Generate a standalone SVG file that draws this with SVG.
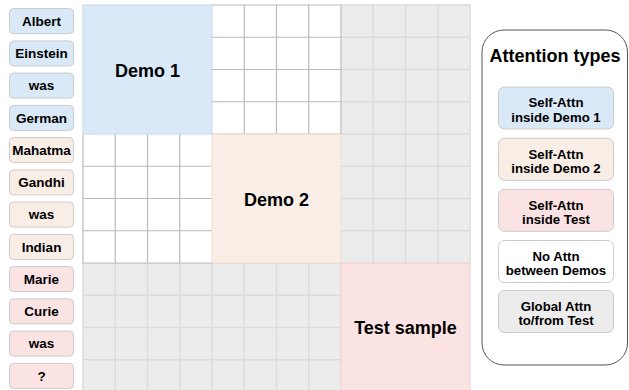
<svg xmlns="http://www.w3.org/2000/svg" width="629" height="390" viewBox="0 0 629 390">
<style>
text{font-family:"Liberation Sans",Arial,sans-serif;font-weight:bold;fill:#000;text-anchor:middle}
.tok{font-size:13.5px}
.blk{font-size:18px}
.lg{font-size:13.2px}
.b{fill:#d9e9f7}
.e{fill:#f9eee6}
.p{fill:#fce3e3}
.w{fill:#ffffff}
.g{fill:#ececec}
.tb{stroke:#cccccc;stroke-width:1}
.wl{stroke:#bbbbbb;stroke-width:1.2;fill:none}
.gl{stroke:#dcdcdc;stroke-width:1.5;fill:none}
</style>
<rect width="629" height="390" fill="#ffffff"/>
<g id="tokens">
<g id="tok-albert"><rect class="b tb" x="9.5" y="8.6" width="64" height="25" rx="4"/><text class="tok" x="41.5" y="25.9">Albert</text></g>
<g id="tok-einstein"><rect class="b tb" x="9.5" y="40.9" width="64" height="25" rx="4"/><text class="tok" x="41.5" y="58.2">Einstein</text></g>
<g id="tok-was1"><rect class="b tb" x="9.5" y="73.1" width="64" height="25" rx="4"/><text class="tok" x="41.5" y="90.4">was</text></g>
<g id="tok-german"><rect class="b tb" x="9.5" y="105.4" width="64" height="25" rx="4"/><text class="tok" x="41.5" y="122.7">German</text></g>
<g id="tok-mahatma"><rect class="e tb" x="9.5" y="137.6" width="64" height="25" rx="4"/><text class="tok" x="41.5" y="154.9">Mahatma</text></g>
<g id="tok-gandhi"><rect class="e tb" x="9.5" y="169.9" width="64" height="25" rx="4"/><text class="tok" x="41.5" y="187.2">Gandhi</text></g>
<g id="tok-was2"><rect class="e tb" x="9.5" y="202.1" width="64" height="25" rx="4"/><text class="tok" x="41.5" y="219.4">was</text></g>
<g id="tok-indian"><rect class="e tb" x="9.5" y="234.4" width="64" height="25" rx="4"/><text class="tok" x="41.5" y="251.7">Indian</text></g>
<g id="tok-marie"><rect class="p tb" x="9.5" y="266.6" width="64" height="25" rx="4"/><text class="tok" x="41.5" y="283.9">Marie</text></g>
<g id="tok-curie"><rect class="p tb" x="9.5" y="298.9" width="64" height="25" rx="4"/><text class="tok" x="41.5" y="316.2">Curie</text></g>
<g id="tok-was3"><rect class="p tb" x="9.5" y="331.1" width="64" height="25" rx="4"/><text class="tok" x="41.5" y="348.4">was</text></g>
<g id="tok-q"><rect class="p tb" x="9.5" y="363.4" width="64" height="25" rx="4"/><text class="tok" x="41.5" y="380.7">?</text></g>
</g>
<g id="matrix">
<g id="gray-right">
<rect class="g" x="341" y="5" width="129" height="258"/>
<path class="gl" d="M341 5H470V263M373.25 5V263M405.5 5V263M437.75 5V263M341 37.25H470M341 69.5H470M341 101.75H470M341 134H470M341 166.25H470M341 198.5H470M341 230.75H470"/>
</g>
<g id="gray-bottom">
<rect class="g" x="83" y="263" width="258" height="129"/>
<path class="gl" d="M83 263H341M83 263V392M115.25 263V392M147.5 263V392M179.75 263V392M212 263V392M244.25 263V392M276.5 263V392M308.75 263V392M83 295.25H341M83 327.5H341M83 359.75H341"/>
</g>
<g id="white-a">
<rect class="w" x="212" y="5" width="129" height="129"/>
<path class="wl" d="M212 5H341V134M244.25 5V134M276.5 5V134M308.75 5V134M212 37.25H341M212 69.5H341M212 101.75H341M212 134H341"/>
</g>
<g id="white-b">
<rect class="w" x="83" y="134" width="129" height="129"/>
<path class="wl" d="M83 134V263H212M115.25 134V263M147.5 134V263M179.75 134V263M83 166.25H212M83 198.5H212M83 230.75H212"/>
</g>
<g id="demo1"><rect class="b" x="83" y="5" width="129" height="129" stroke="#c6d8e8" stroke-width="1"/><text class="blk" x="147.5" y="77">Demo 1</text></g>
<g id="demo2"><rect class="e" x="212" y="134" width="129" height="129" stroke="#eddcd0" stroke-width="1"/><text class="blk" x="276.5" y="206">Demo 2</text></g>
<g id="test"><rect class="p" x="341" y="263" width="129" height="130" stroke="#efcccc" stroke-width="1"/><text class="blk" x="405.5" y="333.5">Test sample</text></g>
</g>
<g id="connectors"></g>
<g id="legend">
<rect x="482" y="30" width="145.5" height="335" rx="22" fill="#ffffff" stroke="#555555" stroke-width="1"/>
<text class="blk" x="555" y="62">Attention types</text>
<g id="lg-demo1"><rect class="b tb" x="498.5" y="87" width="115" height="42" rx="6"/><text class="lg" x="556" y="107.3">Self-Attn</text><text class="lg" x="556" y="121.7">inside Demo 1</text></g>
<g id="lg-demo2"><rect class="e tb" x="498.5" y="138.3" width="115" height="42" rx="6"/><text class="lg" x="556" y="158.6">Self-Attn</text><text class="lg" x="556" y="173">inside Demo 2</text></g>
<g id="lg-test"><rect class="p tb" x="498.5" y="189.3" width="115" height="42" rx="6"/><text class="lg" x="556" y="209.6">Self-Attn</text><text class="lg" x="556" y="224">inside Test</text></g>
<g id="lg-none"><rect class="w tb" x="498.5" y="240.5" width="115" height="42" rx="6"/><text class="lg" x="556" y="260.8">No Attn</text><text class="lg" x="556" y="275.2">between Demos</text></g>
<g id="lg-global"><rect class="g tb" x="498.5" y="290.5" width="115" height="42" rx="6"/><text class="lg" x="556" y="310.8">Global Attn</text><text class="lg" x="556" y="325.2">to/from Test</text></g>
</g>
</svg>
